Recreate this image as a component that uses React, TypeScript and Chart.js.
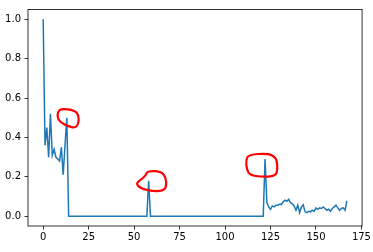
import React, { useEffect, useRef } from "react";
import { Chart, registerables } from "chart.js";

Chart.register(...registerables);

// series values, one per integer x from 0 to 167
const values: number[] = [
  1.0, 0.36, 0.45, 0.30, 0.52, 0.31, 0.34, 0.30, 0.29, 0.28,
  0.35, 0.21, 0.36, 0.50, 0, 0, 0, 0, 0, 0,
  0, 0, 0, 0, 0, 0, 0, 0, 0, 0,
  0, 0, 0, 0, 0, 0, 0, 0, 0, 0,
  0, 0, 0, 0, 0, 0, 0, 0, 0, 0,
  0, 0, 0, 0, 0, 0, 0, 0, 0.18, 0,
  0, 0, 0, 0, 0, 0, 0, 0, 0, 0,
  0, 0, 0, 0, 0, 0, 0, 0, 0, 0,
  0, 0, 0, 0, 0, 0, 0, 0, 0, 0,
  0, 0, 0, 0, 0, 0, 0, 0, 0, 0,
  0, 0, 0, 0, 0, 0, 0, 0, 0, 0,
  0, 0, 0, 0, 0, 0, 0, 0, 0, 0,
  0, 0, 0.29, 0.07, 0.047, 0.035, 0.052, 0.047, 0.056, 0.056,
  0.061, 0.06, 0.073, 0.081, 0.076, 0.086, 0.068, 0.063, 0.052, 0.03,
  0.056, 0.018, 0.047, 0.058, 0.022, 0.018, 0.025, 0.022, 0.03, 0.025,
  0.042, 0.035, 0.042, 0.039, 0.047, 0.039, 0.03, 0.035, 0.025, 0.039,
  0.047, 0.056, 0.042, 0.03, 0.039, 0.042, 0.03, 0.078,
];

const xTicks = [0, 25, 50, 75, 100, 125, 150, 175];
const yTicks = [0, 0.2, 0.4, 0.6, 0.8, 1.0];
const xRange = [-8.35, 175.35];
const yRange = [-0.05, 1.05];

// indexes of the points circled by hand in red
const circledPoints = [13, 58, 122];

// loop outlines, as pixel offsets from each circled point
const loopShapes: number[][][] = [
  [[-9, -5.8], [-5.6, -9.2], [7.7, -7.5], [12, -2.5], [11.7, 5.8], [8.7, 10.2], [1, 8.5], [-7.3, 4.2], [-9.3, -0.8]],
  [[-1.2, -9.7], [12.2, -9.4], [17.2, -3.7], [17.8, 6.3], [13.8, 10.3], [3.8, 10.3], [-7.8, 7.9], [-12.8, 2.9], [-7.8, -1.1], [-2.8, -5.4]],
  [[3.5, -5.6], [-16.2, -4.6], [-19.2, 1.1], [-18.2, 11.1], [-14.8, 16.1], [-3.2, 17.8], [10.2, 17.1], [12.5, 11.1], [11.8, 1.1], [9.5, -2.2]],
];

const FONT = { family: "'DejaVu Sans', sans-serif", size: 10 };

export default function App() {
  const ref = useRef<HTMLCanvasElement | null>(null);

  useEffect(() => {
    document.body.style.margin = "0";
    const canvas = ref.current;
    if (!canvas) return;

    const frame = {
      id: "frame",
      afterDraw(chart: any) {
        const { left, top, right, bottom } = chart.chartArea;
        const c = chart.ctx;
        c.save();
        c.strokeStyle = "#000";
        c.lineWidth = 0.8;
        c.strokeRect(left, top, right - left, bottom - top);
        c.restore();
      },
    };

    const loops = {
      id: "loops",
      afterDraw(chart: any) {
        const c = chart.ctx;
        const xs = chart.scales.x;
        const ys = chart.scales.y;
        c.save();
        c.strokeStyle = "#ff0000";
        c.lineWidth = 2.2;
        c.lineJoin = "round";
        c.lineCap = "round";
        circledPoints.forEach((idx, k) => {
          const px = xs.getPixelForValue(idx);
          const py = ys.getPixelForValue(values[idx]);
          const pts = loopShapes[k].map(([dx, dy]) => [px + dx, py + dy]);
          const n = pts.length;
          const mid = (a: number[], b: number[]) => [(a[0] + b[0]) / 2, (a[1] + b[1]) / 2];
          c.beginPath();
          const m0 = mid(pts[n - 1], pts[0]);
          c.moveTo(m0[0], m0[1]);
          for (let i = 0; i < n; i++) {
            const p = pts[i];
            const m = mid(p, pts[(i + 1) % n]);
            c.quadraticCurveTo(p[0], p[1], m[0], m[1]);
          }
          c.closePath();
          c.stroke();
        });
        c.restore();
      },
    };

    const chart = new Chart(canvas, {
      type: "line",
      data: {
        datasets: [
          {
            data: values.map((v, i) => ({ x: i, y: v })),
            borderColor: "#1f77b4",
            borderWidth: 1.5,
            pointRadius: 0,
            tension: 0,
            fill: false,
          },
        ],
      },
      options: {
        animation: false,
        responsive: true,
        maintainAspectRatio: false,
        layout: { padding: { top: 9, right: 10, left: 0, bottom: 0 } },
        plugins: { legend: { display: false }, tooltip: { enabled: false } },
        scales: {
          x: {
            type: "linear",
            min: xRange[0],
            max: xRange[1],
            afterFit: (s: any) => {
              s.height = 26;
            },
            afterBuildTicks: (s: any) => {
              s.ticks = xTicks.map((v) => ({ value: v }));
            },
            grid: {
              display: true,
              drawOnChartArea: false,
              drawTicks: true,
              tickLength: 3.5,
              tickWidth: 0.8,
              tickColor: "#000",
            },
            border: { display: false },
            ticks: {
              color: "#000",
              font: FONT,
              padding: 2,
              maxRotation: 0,
              autoSkip: false,
              callback: (v: any) => String(v),
            },
          },
          y: {
            type: "linear",
            min: yRange[0],
            max: yRange[1],
            afterFit: (s: any) => {
              s.width = 28;
            },
            afterBuildTicks: (s: any) => {
              s.ticks = yTicks.map((v) => ({ value: v }));
            },
            grid: {
              display: true,
              drawOnChartArea: false,
              drawTicks: true,
              tickLength: 3.5,
              tickWidth: 0.8,
              tickColor: "#000",
            },
            border: { display: false },
            ticks: {
              color: "#000",
              font: FONT,
              padding: 3.5,
              autoSkip: false,
              callback: (v: any) => Number(v).toFixed(1),
            },
          },
        },
      },
      plugins: [frame, loops],
    });

    return () => chart.destroy();
  }, []);

  return (
    <div style={{ position: "relative", width: 373, height: 252 }}>
      <canvas ref={ref} />
    </div>
  );
}
